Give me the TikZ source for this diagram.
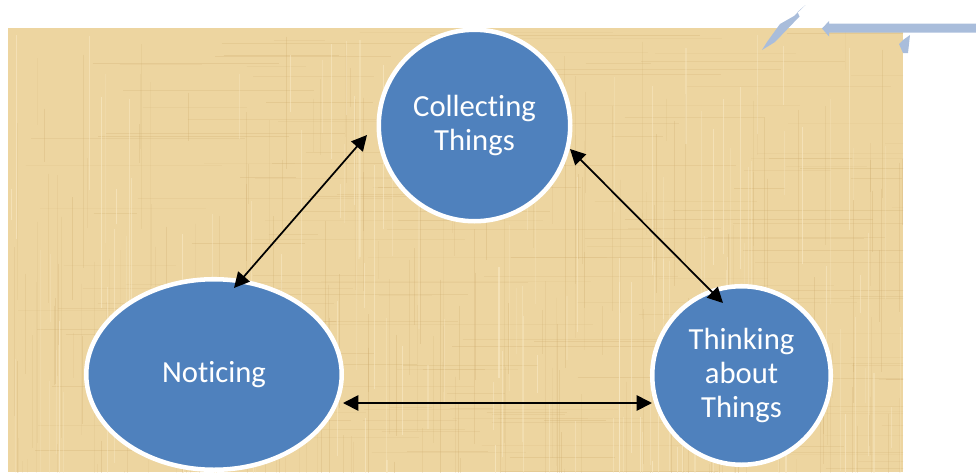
\documentclass[tikz,border=0pt]{standalone}
\usepackage{fontspec}
\setmainfont{Carlito}[RawFeature={-liga;-dlig;-clig;-hlig}]
\usetikzlibrary{shapes.geometric,arrows.meta,calc}
\definecolor{paper}{HTML}{EDD5A0}
\definecolor{paperdark}{HTML}{CDAA6C}
\definecolor{paperlight}{HTML}{FAEBC8}
\definecolor{bubblefill}{HTML}{4F81BD}
\definecolor{ghost}{HTML}{A9BDDB}
\begin{document}
\begin{tikzpicture}[x=0.75pt,y=-0.75pt,
  bubble/.style={fill=bubblefill, draw=white, line width=3.4pt, inner sep=0pt,
    text=white, align=center, font=\fontsize{23}{25.5}\selectfont},
  link/.style={{Triangle[length=11.5pt,width=11.5pt]}-{Triangle[length=11.5pt,width=11.5pt]},
    line width=1.3pt, black},
  ghostshape/.style={fill=ghost}]
\useasboundingbox (0,0) rectangle (976,472);

% textured paper panel
\begin{scope}
  \clip (8,28) rectangle (903,472);
  \fill[paper] (8,28) rectangle (903,472);
  \pgfmathsetseed{12}
  \foreach \i in {1,...,200}{
    \pgfmathsetmacro{\xx}{8+895*rnd}
    \pgfmathsetmacro{\ya}{28+444*rnd}
    \pgfmathsetmacro{\len}{30+200*rnd}
    \pgfmathsetmacro{\op}{0.08+0.22*rnd}
    \draw[paperdark, opacity=\op, line width=0.7pt] (\xx,\ya) -- ++(0,\len);
  }
  \foreach \i in {1,...,160}{
    \pgfmathsetmacro{\ya}{28+444*rnd}
    \pgfmathsetmacro{\xx}{8+895*rnd}
    \pgfmathsetmacro{\len}{40+240*rnd}
    \pgfmathsetmacro{\op}{0.08+0.2*rnd}
    \draw[paperdark, opacity=\op, line width=0.6pt] (\xx,\ya) -- ++(\len,0);
  }
  \foreach \i in {1,...,140}{
    \pgfmathsetmacro{\xx}{8+895*rnd}
    \pgfmathsetmacro{\ya}{28+444*rnd}
    \pgfmathsetmacro{\len}{30+200*rnd}
    \pgfmathsetmacro{\op}{0.2+0.4*rnd}
    \draw[paperlight, opacity=\op, line width=0.8pt] (\xx,\ya) -- ++(0,\len);
  }
\end{scope}

% faint arrow shapes in the top right corner
\fill[ghostshape] (805.5,5) -- (797.5,12) -- (799.5,16.5) -- (775,42) -- (762,50)
  -- (767,42) -- (780,24) -- (794,16) -- cycle;
\fill[ghostshape] (822,28.5) -- (829,21) -- (829,23.5) -- (976,23.5) -- (976,32.5)
  -- (829,32.5) -- (829,36.5) -- cycle;
\fill[ghostshape] (899,44) -- (903,40) -- (910,35) -- (908,53) -- (903,53) -- cycle;

% the three stages
\node[bubble, circle, minimum size=143.6pt] (collect) at (474.5,125.5) {Collecting\\Things};
\node[bubble, ellipse, minimum width=191.6pt, minimum height=142.9pt] (notice) at (214,374.5) {Noticing};
\node[bubble, circle, minimum size=133.9pt] (think) at (741.5,375.5) {Thinking\\about\\Things};

% arrow end points, placed relative to each stage
\coordinate (collect-n) at ($(collect.center)+(-107.5,9.5)$);
\coordinate (notice-c)  at ($(notice.center)+(20,-86.5)$);
\coordinate (collect-t) at ($(collect.center)+(95.5,23.5)$);
\coordinate (think-c)   at ($(think.center)+(-18.5,-72.5)$);
\coordinate (notice-t)  at ($(notice.center)+(129,28.5)$);
\coordinate (think-n)   at ($(think.center)+(-89.5,27.5)$);

\draw[link] (collect-n) -- (notice-c);
\draw[link] (collect-t) -- (think-c);
\draw[link] (notice-t) -- (think-n);
\end{tikzpicture}
\end{document}
